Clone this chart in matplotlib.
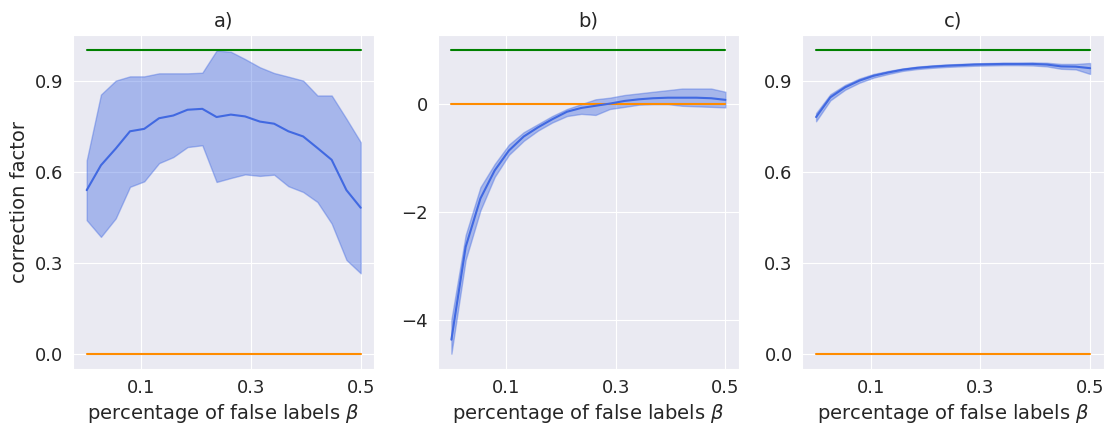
import matplotlib
matplotlib.use("Agg")
import matplotlib.pyplot as plt
import seaborn as sns

# noise levels beta (20 runs from 0 to 0.5)
beta = [0.0, 0.026, 0.053, 0.079, 0.105, 0.132, 0.158, 0.184, 0.211, 0.237,
        0.263, 0.289, 0.316, 0.342, 0.368, 0.395, 0.421, 0.447, 0.474, 0.5]

# a) mean correction factor with spread
a_mean = [0.539, 0.621, 0.676, 0.733, 0.741, 0.776, 0.785, 0.804, 0.807, 0.780,
          0.788, 0.782, 0.765, 0.758, 0.733, 0.716, 0.678, 0.639, 0.539, 0.481]
a_upper = [0.637, 0.854, 0.900, 0.914, 0.914, 0.924, 0.924, 0.924, 0.926, 0.999,
           0.995, 0.971, 0.944, 0.925, 0.913, 0.900, 0.851, 0.851, 0.774, 0.697]
a_lower = [0.440, 0.385, 0.446, 0.550, 0.568, 0.628, 0.648, 0.681, 0.687, 0.566,
           0.579, 0.591, 0.586, 0.590, 0.552, 0.533, 0.500, 0.429, 0.309, 0.265]

# b)
b_mean = [-4.37, -2.65, -1.75, -1.23, -0.86, -0.60, -0.43, -0.28, -0.14, -0.07,
          -0.03, 0.01, 0.06, 0.09, 0.11, 0.12, 0.12, 0.12, 0.11, 0.08]
b_upper = [-4.00, -2.43, -1.54, -1.11, -0.75, -0.52, -0.37, -0.22, -0.09, 0.00,
           0.09, 0.12, 0.17, 0.20, 0.23, 0.26, 0.29, 0.29, 0.29, 0.23]
b_lower = [-4.63, -2.89, -1.97, -1.35, -0.94, -0.68, -0.49, -0.34, -0.22, -0.18,
           -0.20, -0.09, -0.05, -0.01, 0.00, 0.00, -0.03, -0.04, -0.05, -0.06]

# c)
c_mean = [0.780, 0.845, 0.878, 0.900, 0.916, 0.927, 0.936, 0.942, 0.946, 0.949,
          0.951, 0.953, 0.954, 0.955, 0.955, 0.955, 0.953, 0.947, 0.946, 0.941]
c_upper = [0.793, 0.855, 0.886, 0.907, 0.922, 0.932, 0.940, 0.946, 0.950, 0.953,
           0.955, 0.957, 0.958, 0.959, 0.959, 0.960, 0.959, 0.955, 0.955, 0.958]
c_lower = [0.766, 0.835, 0.870, 0.893, 0.910, 0.922, 0.932, 0.938, 0.942, 0.945,
           0.947, 0.949, 0.950, 0.951, 0.951, 0.950, 0.947, 0.939, 0.937, 0.922]

titles = ["a)", "b)", "c)"]
xticks = [0.1, 0.3, 0.5]
yticks = [[0.0, 0.3, 0.6, 0.9], [-4, -2, 0], [0.0, 0.3, 0.6, 0.9]]
ytick_labels = [["0.0", "0.3", "0.6", "0.9"], ["\u22124", "\u22122", "0"],
                ["0.0", "0.3", "0.6", "0.9"]]
ideal, baseline = 1.0, 0.0

sns.set_style("darkgrid")
plt.rcParams["font.family"] = ["DejaVu Sans"]

fig, axes = plt.subplots(1, 3, figsize=(11.06, 4.23), dpi=100)
fig.subplots_adjust(left=0.066, right=0.998, bottom=0.128, top=0.917, wspace=0.21)

series = [(a_mean, a_lower, a_upper), (b_mean, b_lower, b_upper),
          (c_mean, c_lower, c_upper)]
for i, (ax, (m, lo, hi)) in enumerate(zip(axes, series)):
    ax.plot([beta[0], beta[-1]], [ideal, ideal], color="green", lw=1.5)
    ax.plot([beta[0], beta[-1]], [baseline, baseline], color="darkorange", lw=1.5)
    ax.fill_between(beta, lo, hi, color="royalblue", alpha=0.4, lw=1)
    ax.plot(beta, m, color="royalblue", lw=1.5)
    ax.set_xticks(xticks)
    ax.set_xticklabels(["0.1", "0.3", "0.5"])
    ax.set_yticks(yticks[i])
    ax.set_yticklabels(ytick_labels[i])
    ax.tick_params(labelsize=13, colors="#262626")
    ax.set_title(titles[i], fontsize=14, color="#262626")
    ax.set_xlabel(r"percentage of false labels $\beta$", fontsize=14, color="#262626")

axes[0].set_ylabel("correction factor", fontsize=14, color="#262626")

fig.savefig("out.png", dpi=100)
